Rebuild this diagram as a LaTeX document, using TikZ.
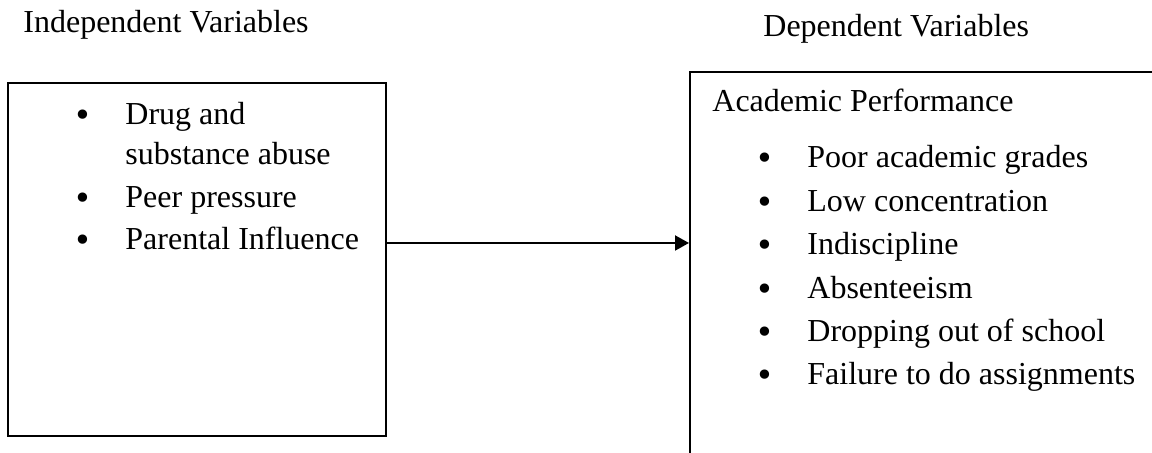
\documentclass[tikz,border=0pt]{standalone}
\usepackage{fontspec}
\setmainfont{Liberation Serif}
\newfontfamily\dotfont{DejaVu Sans}
\usetikzlibrary{arrows.meta}

\begin{document}
\begin{tikzpicture}[x=0.5pt,y=-0.5pt,font=\fontsize{16}{19}\selectfont]

	\tikzset{
		box/.style={rectangle,draw,line width=1pt,inner sep=0pt},
		label/.style={anchor=base west,inner sep=0pt},
		dot/.style={anchor=base west,inner sep=0pt,font=\dotfont\fontsize{16}{19}\selectfont},
		link/.style={-{Triangle[length=7pt,width=7.5pt]},line width=1pt}
	}

	\useasboundingbox (0,0) rectangle (1152,453);
	\clip (0,0) rectangle (1152,453);

	% headings
	\node[label] (ivhead) at (23,33) {Independent Variables};
	\node[label] (dvhead) at (763,37) {Dependent Variables};

	% boxes
	\node[box,minimum width=189pt,minimum height=176.5pt] (ivbox) at (197,259.5) {};
	\node[box,minimum width=240pt,minimum height=199pt] (dvbox) at (930,271) {};

	% independent variables
	\node[dot] (ivdot1) at (73,127) {\textbullet};
	\node[label] (iv1) at (125,125) {Drug and};
	\node[label] (iv2) at (125,165) {substance abuse};
	\node[dot] (ivdot3) at (73,210) {\textbullet};
	\node[label] (iv3) at (125,208) {Peer pressure};
	\node[dot] (ivdot4) at (73,252) {\textbullet};
	\node[label] (iv4) at (125,250) {Parental Influence};

	% dependent variables
	\node[label] (dvtitle) at (712,112) {Academic Performance};
	\foreach \txt [count=\i] in {Poor academic grades,Low concentration,Indiscipline,Absenteeism,Dropping out of school,Failure to do assignments}
	{
		\node[dot] (dvdot\i) at (755,{170+43.4*(\i-1)}) {\textbullet};
		\node[label] (dv\i) at (807,{168+43.4*(\i-1)}) {\txt};
	}

	\coordinate (arrowy) at (386,243);
	\draw[link] (ivbox.east |- arrowy) -- (dvbox.west |- arrowy);

\end{tikzpicture}
\end{document}
